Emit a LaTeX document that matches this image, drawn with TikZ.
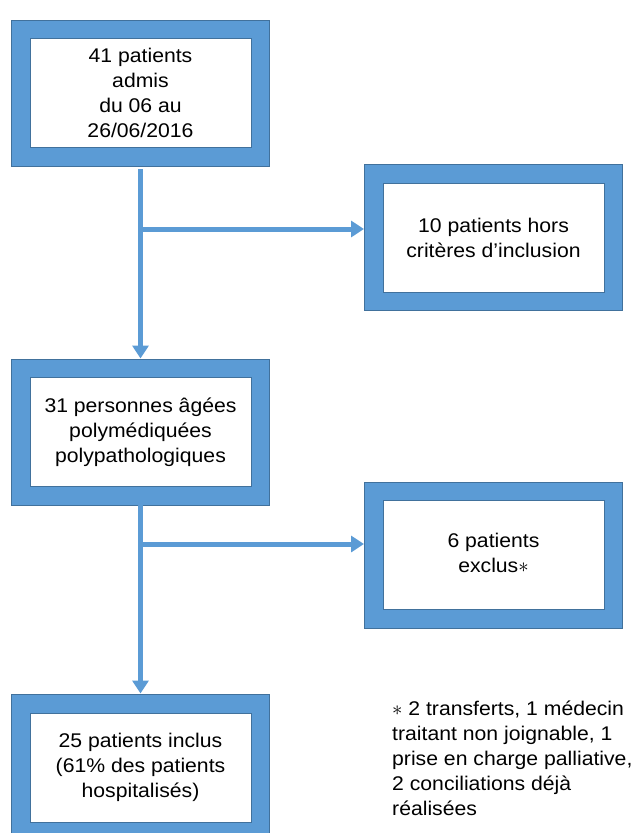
\documentclass[tikz,border=0pt]{standalone}
\usepackage{fontspec}
\setmainfont[FakeStretch=1.07]{Liberation Sans}
\usetikzlibrary{arrows.meta}
\definecolor{boxblue}{HTML}{5B9BD5}
\definecolor{edgeblue}{HTML}{41719C}
\begin{document}
\begin{tikzpicture}[x=1pt,y=-1pt,
  outerbox/.style={draw=edgeblue, line width=1pt, fill=boxblue, minimum width=258pt, minimum height=146pt, inner sep=0pt},
  innerbox/.style={draw=edgeblue, line width=1pt, fill=white, minimum width=221pt, minimum height=109pt, inner sep=0pt, align=center, font=\fontsize{19.8}{25}\selectfont},
  arr/.style={draw=boxblue, line width=5pt, -{Triangle[width=16pt,length=13pt]}},
  plain/.style={draw=boxblue, line width=5pt}
]
\useasboundingbox (0,0) rectangle (637,833);
\clip (0,0) rectangle (637,833);
% boxes
\node[outerbox] (b1) at (140,93) {};
\node[innerbox] (t1) at (140.5,92.5) {41 patients\\admis\\du 06 au\\26/06/2016};
\node[outerbox] (b2) at (493.5,237.5) {};
\node[innerbox] (t2) at (493.5,237.5) {10 patients hors\\crit\`eres d’inclusion};
\node[outerbox] (b3) at (140,432) {};
\node[innerbox] (t3) at (140.5,432) {31 personnes \^ag\'ees\\polym\'ediqu\'ees\\polypathologiques};
\node[outerbox] (b4) at (493.5,555.5) {};
\node[innerbox] (t4) at (493.5,555) {\raisebox{2pt}{\begin{tabular}{@{}c@{}}6 patients\\exclus$\ast$\end{tabular}}};
\node[outerbox] (b5) at (140,767) {};
\node[innerbox] (t5) at (140.5,767.5) {25 patients inclus\\(61\% des patients\\hospitalis\'es)};
% connectors
\coordinate (s1) at (140.5,169);
\coordinate (j1) at (140.5,229);
\coordinate (s3) at (140.5,505);
\coordinate (j2) at (140.5,544);
\draw[arr] (s1) -- (s1 |- b3.north);
\draw[arr] (j1) -- (b2.west |- j1);
\draw[arr] (s3) -- (s3 |- b5.north);
\draw[arr] (j2) -- (b4.west |- j2);
% footnote
\node[anchor=north west, inner sep=0pt, align=left, font=\fontsize{19.8}{25}\selectfont] (note) at (392,701)
 {$\ast$ 2 transferts, 1 m\'edecin\\traitant non joignable, 1\\prise en charge palliative,\\2 conciliations d\'ej\`a\\r\'ealis\'ees};
\end{tikzpicture}
\end{document}
